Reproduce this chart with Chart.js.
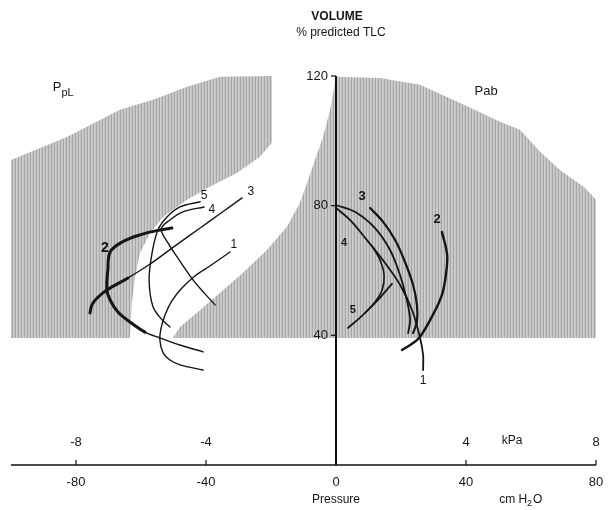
<!DOCTYPE html>
<html>
<head>
<meta charset="utf-8">
<title>Volume vs pressure</title>
<script src="https://cdn.jsdelivr.net/npm/chart.js"></script>
<style>
  html, body { margin: 0; padding: 0; background: #fff; }
  canvas { display: block; }
</style>
</head>
<body>
<canvas id="chart" width="610" height="510"></canvas>
<script>
// axis ticks
const cmTicks = [-80, -40, 0, 40, 80];
const kpaTicks = [-8, -4, 4, 8];
const volumeTicks = [40, 80, 120];

// shaded areas (pressure cm H2O, volume % predicted TLC)
const leftAreaX = [-19.7, -35.7, -45.8, -56.3, -66.5, -82.8, -100, -100, -63.4, -62.8, -61.8, -60.3, -57.2, -53.2, -45.8, -38.8, -30.5, -23.4, -19.7, -19.7];
const leftAreaY = [120, 119.8, 116.7, 112.7, 109.6, 101.2, 94.1, 39.2, 39.2, 50, 58, 65.4, 71.6, 76.5, 81.8, 85.8, 90.1, 95.1, 99.4, 120];
const rightAreaX = [0, 13.5, 25.8, 38.2, 50.5, 56.6, 62.8, 68.9, 76.6, 80, 80, -50.2, -48, -41.8, -35.7, -28.6, -21.2, -15.1, -11.1, -8.9, -6.5, -4, -1.8, 0];
const rightAreaY = [119.8, 119.4, 117.3, 111.7, 105.9, 103.4, 96.6, 91, 85.5, 81.8, 39.2, 39.2, 42.6, 47.8, 53.1, 59.3, 66.4, 73.5, 80.9, 87, 94.1, 101.2, 109.6, 119.8];

// pleural pressure curves
const pl1X = [-32.6, -38.8, -43.4, -47.4, -50.5, -52.6, -53.8, -54.2, -53.2, -51.1, -48, -40.9];
const pl1Y = [65.7, 61.4, 58.3, 54.6, 50.6, 46.3, 42.3, 38.6, 34.6, 32.4, 30.9, 29.3];
const pl2X = [-50.5, -54.2, -60.3, -65.8, -69.5, -70.2, -70.5, -69.5, -67.1, -63.4, -58.8, -54.2, -48, -40.9];
const pl2Y = [73.1, 72.5, 71, 68.8, 65.7, 60.2, 54, 50.9, 47.2, 44.1, 41, 39.2, 37, 34.9];
const pl3X = [-28.9, -35.7, -41.8, -49.5, -57.2, -64, -70.5, -73.5, -75.1, -75.7];
const pl3Y = [82.4, 77.5, 73.1, 67.6, 62, 57.7, 54, 51.5, 49.4, 46.9];
const pl4X = [-40.6, -47.1, -51.1, -53.8, -51.7, -48.9, -44, -40.3, -37.2];
const pl4Y = [79.6, 78.1, 75.6, 72.8, 68.5, 64.2, 57.1, 52.8, 49.4];
const pl5X = [-41.8, -48, -52, -54.8, -56.6, -57.5, -56.3, -53.5, -51.1];
const pl5Y = [81.2, 79.6, 76.5, 72.5, 65.4, 57.1, 48.8, 44.8, 42.6];

// abdominal pressure curves
const ab1X = [0, 4.3, 9.5, 15.1, 19.7, 23.4, 25.8, 26.8, 26.8];
const ab1Y = [79.3, 75.6, 69.4, 62.3, 55.6, 47.8, 39.5, 34, 29.3];
const abAX = [0, 5.8, 12, 16.6, 19.7, 21.8, 22.8, 22.2];
const abAY = [80.2, 78.1, 73.1, 66.4, 58.6, 50.9, 44.8, 40.7];
const ab2X = [32.6, 34.2, 33.8, 32.6, 29.8, 25.8, 22.8, 20.3];
const ab2Y = [71.9, 64.8, 58.6, 52.5, 46.3, 39.5, 37, 35.5];
const ab3X = [10.5, 14.5, 18.2, 21.2, 23.7, 24.9, 24.9, 23.7];
const ab3Y = [79.3, 75, 69.4, 62.7, 55.6, 49.4, 44.1, 40.7];
const ab4X = [11.1, 13.5, 14.8, 14.2, 12, 8.9];
const ab4Y = [67.6, 63.3, 58.6, 54, 50.3, 46.9];
const ab5X = [3.7, 8, 12.9, 17.2];
const ab5Y = [42.3, 46, 50.9, 55.9];

const pts = (xs, ys) => xs.map((x, i) => ({ x: x, y: ys[i] }));

// vertical hatching like the printed screen
function hatch() {
  const c = document.createElement('canvas');
  c.width = 3; c.height = 4;
  const g = c.getContext('2d');
  const cols = ['#a6a6a6', '#cdcdcd', '#c4c4c4'];
  cols.forEach((col, i) => { g.fillStyle = col; g.fillRect(i, 0, 1, 4); });
  return g.createPattern(c, 'repeat');
}
const shade = hatch();

function area(xs, ys) {
  return {
    data: pts(xs, ys), fill: 'shape', backgroundColor: shade,
    borderWidth: 0, pointRadius: 0, tension: 0, order: 2
  };
}
function curve(xs, ys, w, extra) {
  return Object.assign({
    data: pts(xs, ys), fill: false, borderColor: '#151515', borderWidth: w,
    pointRadius: 0, tension: 0.35, order: 1, borderCapStyle: 'round'
  }, extra || {});
}

const FONT = "'Liberation Sans', Arial, sans-serif";

const notes = [
  ['VOLUME', 0.3, 138.3, 'bold 12px', 'center'],
  ['% predicted TLC', 1.5, 133.3, '12px', 'center'],
  ['P', -85.8, 116.4, '13px', 'center'],
  ['pL', -82.6, 114.8, '11px', 'center'],
  ['Pab', 46.2, 115.1, '13px', 'center'],
  ['5', -40.6, 83, '12px', 'center'],
  ['4', -38.2, 78.7, '12px', 'center'],
  ['3', -26.2, 84.3, '12px', 'center'],
  ['1', -31.4, 67.9, '12px', 'center'],
  ['2', -71.1, 67, 'bold 14px', 'center'],
  ['3', 8, 82.7, 'bold 13px', 'center'],
  ['2', 31.1, 75.9, 'bold 13px', 'center'],
  ['4', 2.5, 68.5, 'bold 11px', 'center'],
  ['5', 5.2, 47.8, 'bold 11px', 'center'],
  ['1', 26.8, 25.9, '12px', 'center'],
  ['kPa', 54.2, 7.6, '12px', 'center'],
  ['Pressure', 0, -10.8, '12px', 'center'],
  ['cm H', 54.5, -10.8, '12px', 'center']
];

const axesPlugin = {
  id: 'axesAndText',
  afterDatasetsDraw(chart) {
    const ctx = chart.ctx;
    const sx = chart.scales.x, sy = chart.scales.y;
    const X = v => sx.getPixelForValue(v), Y = v => sy.getPixelForValue(v);
    ctx.save();
    ctx.strokeStyle = '#111';
    ctx.fillStyle = '#151515';
    // horizontal axis
    ctx.lineWidth = 1.6;
    ctx.beginPath();
    ctx.moveTo(X(sx.min), Y(0)); ctx.lineTo(X(sx.max), Y(0));
    ctx.stroke();
    ctx.lineWidth = 1.2;
    cmTicks.forEach(v => {
      if (v === 0) return;
      ctx.beginPath(); ctx.moveTo(X(v), Y(0)); ctx.lineTo(X(v), Y(0) - 5); ctx.stroke();
    });
    // vertical axis
    ctx.lineWidth = 2;
    ctx.beginPath();
    ctx.moveTo(X(0), Y(sy.max)); ctx.lineTo(X(0), Y(0));
    ctx.stroke();
    ctx.lineWidth = 1.2;
    volumeTicks.forEach(v => {
      ctx.beginPath(); ctx.moveTo(X(0), Y(v)); ctx.lineTo(X(0) - 5, Y(v)); ctx.stroke();
    });
    ctx.textBaseline = 'middle';
    ctx.font = '13px ' + FONT;
    ctx.textAlign = 'right';
    volumeTicks.forEach(v => ctx.fillText(String(v), X(0) - 8, Y(v)));
    ctx.textAlign = 'center';
    cmTicks.forEach(v => ctx.fillText(String(v), X(v), Y(0) + 17));
    kpaTicks.forEach(v => ctx.fillText(String(v), X(v * 10), Y(0) - 23));
    notes.forEach(n => {
      ctx.font = n[3] + ' ' + FONT;
      ctx.textAlign = n[4];
      ctx.fillText(n[0], X(n[1]), Y(n[2]));
    });
    // H2O subscript
    const base = ctx.measureText('cm H').width;
    const cx = X(54.5) + base / 2;
    ctx.textAlign = 'left';
    ctx.font = '9px ' + FONT;
    ctx.fillText('2', cx, Y(-10.8) + 4);
    ctx.font = '12px ' + FONT;
    ctx.fillText('O', cx + 6, Y(-10.8));
    ctx.restore();
  }
};

new Chart(document.getElementById('chart'), {
  type: 'line',
  data: {
    datasets: [
      curve(pl1X, pl1Y, 1.4),
      curve(pl2X, pl2Y, 3, {
        segment: { borderWidth: c => c.p1.parsed.x > -55 && c.p1.parsed.y < 40 ? 1.5 : 3 }
      }),
      curve(pl3X, pl3Y, 1.4, {
        segment: { borderWidth: c => c.p1.parsed.x < -69 ? 3 : 1.4 }
      }),
      curve(pl4X, pl4Y, 1.4),
      curve(pl5X, pl5Y, 1.4),
      curve(ab1X, ab1Y, 1.8),
      curve(abAX, abAY, 1.8),
      curve(ab2X, ab2Y, 2.4),
      curve(ab3X, ab3Y, 2.2),
      curve(ab4X, ab4Y, 1.6),
      curve(ab5X, ab5Y, 1.8),
      area(leftAreaX, leftAreaY),
      area(rightAreaX, rightAreaY)
    ]
  },
  options: {
    responsive: false,
    animation: false,
    devicePixelRatio: 1,
    layout: { padding: { left: 11, right: 14, top: 76, bottom: 45 } },
    scales: {
      x: { type: 'linear', min: -100, max: 80, display: false },
      y: { type: 'linear', min: 0, max: 120, display: false }
    },
    plugins: { legend: { display: false }, tooltip: { enabled: false } }
  },
  plugins: [axesPlugin]
});
</script>
</body>
</html>
